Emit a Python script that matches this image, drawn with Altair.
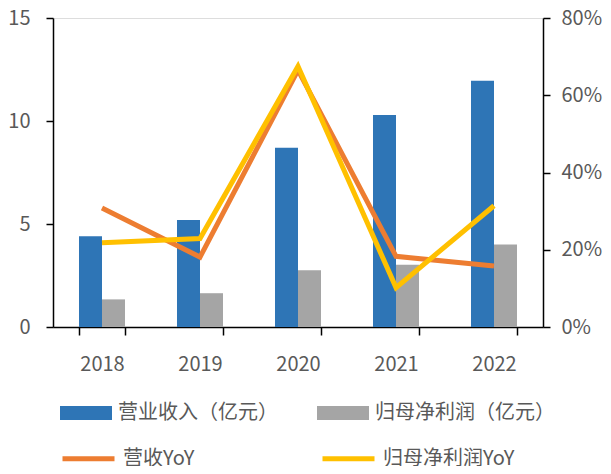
import altair as alt
import pandas as pd

years = ["2018", "2019", "2020", "2021", "2022"]
revenue = [4.40, 5.19, 8.70, 10.29, 11.95]
profit = [1.34, 1.64, 2.75, 3.02, 4.00]
rev_yoy = [0.308, 0.181, 0.665, 0.183, 0.158]
profit_yoy = [0.218, 0.229, 0.675, 0.102, 0.314]

bar_names = ["营业收入（亿元）", "归母净利润（亿元）"]
line_names = ["营收YoY", "归母净利润YoY"]
bar_colors = ["#2E75B6", "#A5A5A5"]
line_colors = ["#ED7D31", "#FFC000"]

bars_df = pd.DataFrame(
    [{"year": y, "series": bar_names[0], "value": v} for y, v in zip(years, revenue)]
    + [{"year": y, "series": bar_names[1], "value": v} for y, v in zip(years, profit)]
)
lines_df = pd.DataFrame(
    [{"year": y, "series": line_names[0], "value": v} for y, v in zip(years, rev_yoy)]
    + [{"year": y, "series": line_names[1], "value": v} for y, v in zip(years, profit_yoy)]
)

FONT = "Noto Sans CJK SC"
LABEL = "#595959"

x_axis = alt.Axis(
    title=None, labelAngle=0, tickBand="extent", domainColor="#000000", tickColor="#000000",
    tickSize=8, labelPadding=19, labelFontSize=20, labelColor=LABEL, labelFont=FONT,
    grid=False, domainWidth=1.5, tickWidth=1.5,
)
x_scale = alt.Scale(paddingInner=0.5306, paddingOuter=0.2653)

bars = alt.Chart(bars_df).mark_bar().encode(
    x=alt.X("year:N", sort=years, scale=x_scale, axis=x_axis),
    xOffset=alt.XOffset("series:N", sort=bar_names, scale=alt.Scale(paddingInner=0, paddingOuter=0)),
    y=alt.Y(
        "value:Q",
        scale=alt.Scale(domain=[0, 15], nice=False),
        axis=alt.Axis(
            title=None, orient="left", values=[0, 5, 10, 15], grid=False,
            domainColor="#000000", tickColor="#000000", tickSize=7, labelPadding=16,
            labelFontSize=20, labelColor=LABEL, labelFont=FONT, domainWidth=1.5, tickWidth=1.5,
        ),
    ),
    fill=alt.Fill(
        "series:N",
        sort=bar_names,
        scale=alt.Scale(domain=bar_names, range=bar_colors),
        legend=alt.Legend(
            title=None, orient="none", legendX=7, legendY=369, direction="horizontal",
            columns=2, symbolType="M-1,-0.27H1V0.27H-1Z", symbolSize=2704,
            symbolStrokeWidth=0, labelFontSize=20, labelColor=LABEL, labelFont=FONT,
            columnPadding=39, labelOffset=6, padding=0, labelLimit=400,
        ),
    ),
)

lines = alt.Chart(lines_df).mark_line(strokeWidth=5, strokeJoin="miter").encode(
    x=alt.X("year:N", sort=years, scale=x_scale, axis=x_axis),
    y=alt.Y(
        "value:Q",
        scale=alt.Scale(domain=[0, 0.8], nice=False),
        axis=alt.Axis(
            title=None, orient="right", values=[0, 0.2, 0.4, 0.6, 0.8], format=".0%", grid=False,
            domainColor="#000000", tickColor="#000000", tickSize=7, labelPadding=11,
            labelFontSize=20, labelColor=LABEL, labelFont=FONT, domainWidth=1.5, tickWidth=1.5,
        ),
    ),
    stroke=alt.Stroke(
        "series:N",
        sort=line_names,
        scale=alt.Scale(domain=line_names, range=line_colors),
        legend=alt.Legend(
            title=None, orient="none", legendX=7, legendY=412, direction="horizontal",
            columns=2, symbolType="stroke", symbolSize=2704, symbolStrokeWidth=5,
            labelFontSize=20, labelColor=LABEL, labelFont=FONT,
            columnPadding=117, labelOffset=6, padding=0, labelLimit=400,
        ),
    ),
    order=alt.Order("series:N", sort="descending"),
)

chart = (
    alt.layer(bars, lines)
    .resolve_scale(y="independent", fill="independent", stroke="independent")
    .properties(
        width=490,
        height=309,
        autosize=alt.AutoSizeParams(type="none"),
        padding={"left": 45, "top": 10, "right": 60, "bottom": 139},
    )
    .configure_view(strokeWidth=0)
    .configure(font=FONT)
)

chart.save("out.html", embed_options={"renderer": "svg", "actions": False})
